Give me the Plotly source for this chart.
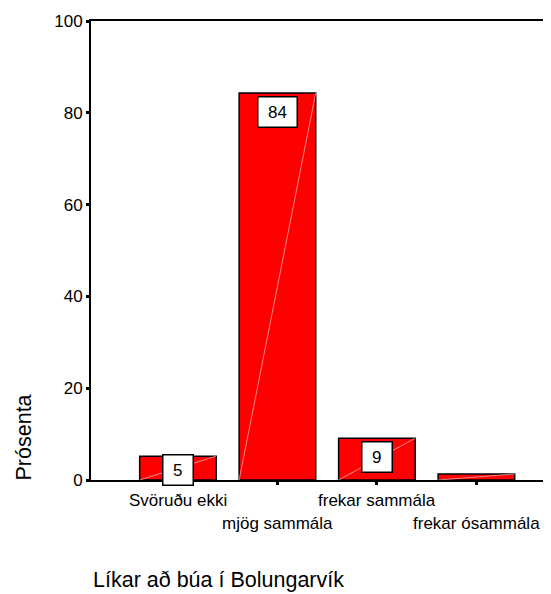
import plotly.graph_objects as go

categories = ["Svöruðu ekki", "mjög sammála", "frekar sammála", "frekar ósammála"]
values = [5.2, 84.3, 9.1, 1.3]
labels = ["5", "84", "9", ""]
y_ticks = [0, 20, 40, 60, 80, 100]

FONT = "Liberation Sans, Arial, sans-serif"
BW = 0.77
xs = list(range(len(categories)))

fig = go.Figure()
fig.add_trace(go.Bar(
    x=xs, y=values, width=BW,
    marker=dict(color="#ff0000", line=dict(color="black", width=1.5)),
    hoverinfo="skip",
))
# faint diagonal highlight inside each bar
for i, v in zip(xs, values):
    fig.add_trace(go.Scatter(
        x=[i - BW / 2, i + BW / 2], y=[0, v], mode="lines",
        line=dict(color="rgba(255,190,190,0.9)", width=0.8),
        hoverinfo="skip", showlegend=False,
    ))

for i, v, t in zip(xs, values, labels):
    if t:
        fig.add_annotation(
            x=i, y=v, xref="x", yref="y", text=t, showarrow=False,
            yanchor="top", yshift=-3 if v > 7 else 2,
            font=dict(family=FONT, size=17, color="black"),
            bgcolor="white", bordercolor="black", borderwidth=1.5,
            width=9.5 * len(t) + 17, height=27, align="center", valign="middle",
        )

# staggered category labels
for i, c in zip(xs, categories):
    fig.add_annotation(
        x=i, y=0, xref="x", yref="y", text=c, showarrow=False,
        yanchor="top", yshift=-9 if i % 2 == 0 else -32,
        font=dict(family=FONT, size=17, color="black"),
    )

fig.add_annotation(
    x=0.0, y=-0.218, xref="paper", yref="paper", text="Líkar að búa í Bolungarvík",
    showarrow=False, xanchor="left", yanchor="middle",
    font=dict(family=FONT, size=21.5, color="black"),
)
fig.add_annotation(
    x=-0.1435, y=0.0926, xref="paper", yref="paper", text="Prósenta",
    showarrow=False, textangle=-90, xanchor="center", yanchor="middle",
    font=dict(family=FONT, size=21.5, color="black"),
)

fig.update_layout(
    width=543, height=586,
    margin=dict(l=83, r=0, t=13, b=114),
    paper_bgcolor="white", plot_bgcolor="white",
    showlegend=False,
    xaxis=dict(
        range=[-0.874, 3.75], tickvals=xs, ticktext=[""] * len(xs),
        showgrid=False, zeroline=False,
        showline=True, linecolor="black", linewidth=2, mirror=True,
        ticks="outside", ticklen=3, tickwidth=3, tickcolor="black",
    ),
    yaxis=dict(
        range=[0, 100], tickvals=y_ticks,
        showgrid=False, zeroline=False,
        showline=True, linecolor="black", linewidth=2,
        ticks="outside", ticklen=3, tickwidth=3, tickcolor="black",
        tickfont=dict(family=FONT, size=17, color="black"),
    ),
)

fig.write_html("out.html")
